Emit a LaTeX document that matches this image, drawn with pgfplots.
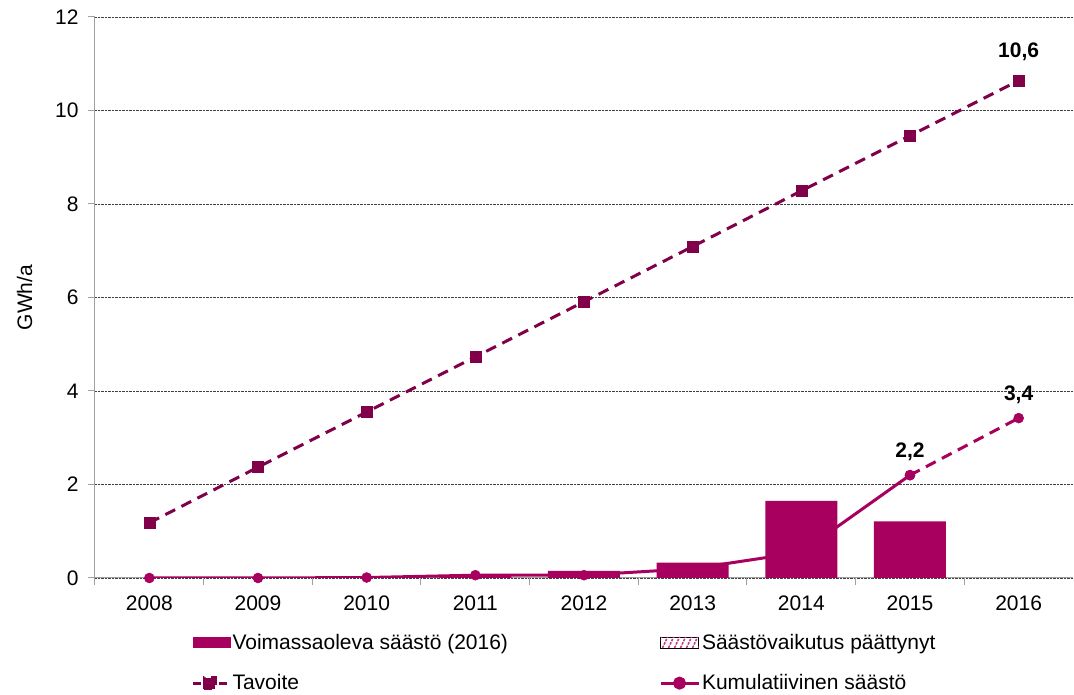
\documentclass[border=0pt]{standalone}
\usepackage{fontspec}
\setmainfont{Liberation Sans}
\usepackage{pgfplots}
\pgfplotsset{compat=1.18}
\definecolor{saasto}{HTML}{A8005E}
\definecolor{tavoite}{HTML}{80004A}
\definecolor{axisgray}{HTML}{A0A0A0}
\newcommand\chartfont{\fontsize{21}{25}\selectfont}
\pgfplotsset{
  legbar/.style={legend image code/.code={\fill[saasto] (0pt,-5.5pt) rectangle (38pt,5.5pt);}},
  leghatch/.style={legend image code/.code={
      \begin{scope}
        \clip (0pt,-5.5pt) rectangle (38pt,5.5pt);
        \foreach \i in {-4,2,...,38}
          \draw[saasto!75, line width=1.6pt, dash pattern=on 2.5pt off 1.2pt]
            (\i pt,-5.5pt) -- ++(5pt,11pt);
      \end{scope}}},
  legtav/.style={legend image code/.code={
      \draw[tavoite, line width=3pt] (0pt,0pt) -- (8pt,0pt);
      \draw[tavoite, line width=3pt] (26pt,0pt) -- (34pt,0pt);
      \fill[tavoite] (11.5pt,-5.5pt) rectangle (22.5pt,5.5pt);}},
  legkum/.style={legend image code/.code={
      \draw[saasto, line width=3pt] (0pt,0pt) -- (38pt,0pt);
      \fill[saasto] (19pt,0pt) circle (5pt);}},
}

\begin{document}
\begin{tikzpicture}
  % page frame: 1074 x 695, plot area starts 95 from left and 117 from bottom
  \path[use as bounding box] (-95pt,-117pt) rectangle (979pt,578pt);
  \begin{axis}[
      at={(0pt,0pt)}, anchor=south west,
      scale only axis, width=978pt, height=561pt,
      xmin=-0.5, xmax=8.5, ymin=0, ymax=12,
      xtick={0,...,8},
      xticklabels={2008,2009,2010,2011,2012,2013,2014,2015,2016},
      minor xtick={-0.5,0.5,...,7.5},
      ytick={0,2,...,12},
      axis x line*=bottom, axis y line*=left,
      axis line style={-, draw=axisgray, line width=1pt},
      tick align=outside,
      major tick length=7pt, minor tick length=7pt,
      tick style={draw=axisgray, line width=1pt},
      major x tick style={draw=none},
      ymajorgrids=true,
      major grid style={densely dotted, black!75, line width=0.8pt},
      tick label style={font=\chartfont},
      /pgf/number format/assume math mode=true,
      xticklabel style={yshift=-7pt},
      yticklabel style={xshift=-6pt},
      ylabel={GWh/a},
      ylabel style={font=\chartfont, at={(axis description cs:-0.072,0.5)}, anchor=center},
      legend style={draw=none, fill=none, font=\chartfont, inner sep=0pt,
        at={(axis description cs:0.098,-0.096)}, anchor=north west,
        row sep=20pt, cells={anchor=west},
        /tikz/every even column/.append style={column sep=149pt}},
      legend columns=2,
    ]
    \addplot[ybar, bar width=72pt, fill=saasto, draw=none, legbar]
      coordinates {(2,0.02)(3,0.04)(4,0.15)(5,0.33)(6,1.65)(7,1.21)};
    \addlegendentry{Voimassaoleva säästö (2016)}
    \addlegendimage{leghatch}
    \addlegendentry{Säästövaikutus päättynyt}
    \addplot[tavoite, line width=3pt, dash pattern=on 11pt off 7pt,
      mark=square*, mark size=5.5pt, mark options={solid, line width=0.5pt}, legtav]
      coordinates {(0,1.18)(1,2.37)(2,3.55)(3,4.73)(4,5.91)(5,7.09)(6,8.28)(7,9.46)(8,10.64)};
    \addlegendentry{Tavoite}
    \addplot[saasto, line width=3pt, mark=*, mark size=5pt,
      mark options={solid, line width=0.5pt}, legkum]
      coordinates {(0,0)(1,0)(2,0.01)(3,0.06)(4,0.06)(5,0.2)(6,0.55)(7,2.2)};
    \addlegendentry{Kumulatiivinen säästö}
    \addplot[saasto, line width=3pt, dash pattern=on 11pt off 7pt, mark=*, mark size=5pt,
      mark options={solid, line width=0.5pt}, forget plot]
      coordinates {(7,2.2)(8,3.42)};
    \node[anchor=base, font=\bfseries\chartfont, inner sep=0pt, yshift=23pt] at (axis cs:8,10.64) {10,6};
    \node[anchor=base, font=\bfseries\chartfont, inner sep=0pt, yshift=18pt] at (axis cs:8,3.42) {3,4};
    \node[anchor=base, font=\bfseries\chartfont, inner sep=0pt, yshift=18pt] at (axis cs:7,2.2) {2,2};
  \end{axis}
\end{tikzpicture}
\end{document}
